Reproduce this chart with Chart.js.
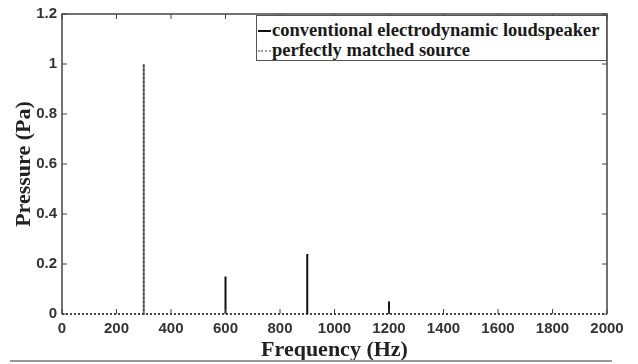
<!DOCTYPE html>
<html>
<head>
<meta charset="utf-8">
<script src="https://cdn.jsdelivr.net/npm/chart.js@4.4.1/dist/chart.umd.min.js"></script>
<style>
  html, body { margin: 0; padding: 0; background: #fff; }
  #wrap { position: relative; width: 638px; height: 364px; }
  #legend {
    position: absolute; left: 256px; top: 15px; width: 349px; height: 44px;
    border: 1.5px solid #555; background: #fff;
    font: bold 18.5px "Liberation Serif", "Times New Roman", serif; color: #1a1a1a;
  }
  #legend .row { position: absolute; left: 15px; height: 22px; line-height: 22px; white-space: nowrap; }
  #legend .sample { position: absolute; left: -14px; top: 11px; width: 13px; height: 0; }
  #bottomRule { position: absolute; left: 10px; top: 360px; width: 602px; height: 2px; background: #999; }
</style>
</head>
<body>
<div id="wrap">
  <canvas id="chart"></canvas>
  <div id="legend"></div>
  <div id="bottomRule"></div>
</div>
<script>
// spectrum lines
const conventionalFreqs    = [600, 900, 1200, 1500];
const conventionalPressure = [0.15, 0.24, 0.05, 0.005];
const matchedFreqs    = [300];
const matchedPressure = [1.0];
const freqRange = [0, 2000];

// vertical spikes: up and back down at each frequency, gap between them
function spikes(freqs, values) {
  const pts = [];
  freqs.forEach((f, i) => {
    pts.push({ x: f, y: 0 }, { x: f, y: values[i] }, { x: f, y: 0 }, { x: f, y: null });
  });
  return pts;
}

// matched source sits on the baseline across the whole band
function baselineSpikes(freqs, values) {
  const pts = [{ x: freqRange[0], y: 0 }];
  freqs.forEach((f, i) => pts.push({ x: f, y: 0 }, { x: f, y: values[i] }, { x: f, y: 0 }));
  pts.push({ x: freqRange[1], y: 0 });
  return pts;
}

const tickFont = { family: "'Liberation Sans', Arial, sans-serif", size: 15, weight: "bold" };
const titleFont = { family: "'Liberation Serif', 'Times New Roman', serif", size: 22, weight: "bold" };

// frame + inward tick marks on all four sides, like the MATLAB box
const framePlugin = {
  id: "frame",
  afterDatasetsDraw(chart) {
    const { ctx, chartArea: a, scales } = chart;
    ctx.save();
    ctx.strokeStyle = "#444";
    ctx.lineWidth = 1.5;
    ctx.beginPath();
    ctx.moveTo(a.left, a.bottom);
    ctx.lineTo(a.left, a.top);
    ctx.lineTo(a.right, a.top);
    ctx.lineTo(a.right, a.bottom);
    ctx.stroke();
    ctx.lineWidth = 1;
    ctx.beginPath();
    scales.x.ticks.forEach(t => {
      const px = scales.x.getPixelForValue(t.value);
      ctx.moveTo(px, a.bottom); ctx.lineTo(px, a.bottom - 5);
      ctx.moveTo(px, a.top);    ctx.lineTo(px, a.top + 5);
    });
    scales.y.ticks.forEach(t => {
      const py = scales.y.getPixelForValue(t.value);
      ctx.moveTo(a.left, py);  ctx.lineTo(a.left + 5, py);
      ctx.moveTo(a.right, py); ctx.lineTo(a.right - 5, py);
    });
    ctx.stroke();
    ctx.restore();
  }
};

const datasets = [
  {
    label: "conventional electrodynamic loudspeaker",
    data: spikes(conventionalFreqs, conventionalPressure),
    borderColor: "#111",
    borderWidth: 2,
    pointRadius: 0,
    spanGaps: false,
    clip: 4
  },
  {
    label: "perfectly matched source",
    data: baselineSpikes(matchedFreqs, matchedPressure),
    borderColor: "#444",
    borderWidth: 2,
    borderDash: [2, 2],
    pointRadius: 0,
    clip: 4
  }
];

new Chart(document.getElementById("chart"), {
  type: "line",
  data: { datasets },
  options: {
    responsive: true,
    maintainAspectRatio: false,
    animation: false,
    layout: { padding: { left: 0, right: 31, top: 14, bottom: 0 } },
    plugins: { legend: { display: false }, tooltip: { enabled: false } },
    scales: {
      x: {
        type: "linear",
        min: freqRange[0], max: freqRange[1],
        grid: { display: false, drawTicks: false },
        border: { display: false },
        ticks: { stepSize: 200, padding: 6, color: "#333", font: tickFont, maxRotation: 0,
                 callback: v => String(v) },
        title: { display: true, text: "Frequency (Hz)", color: "#222", font: titleFont, padding: { top: 0, bottom: 0 } },
        afterFit(scale) { scale.height = 50; }
      },
      y: {
        min: 0, max: 1.2,
        grid: { display: false, drawTicks: false },
        border: { display: false },
        ticks: { stepSize: 0.2, padding: 5, color: "#333", font: tickFont,
                 callback: v => String(Math.round(v * 10) / 10) },
        title: { display: true, text: "Pressure (Pa)", color: "#222", font: titleFont, padding: { top: 11, bottom: 0 } },
        afterFit(scale) { scale.width = 62; }
      }
    }
  },
  plugins: [framePlugin]
});

// legend box sits inside the plot, top right
const legend = document.getElementById("legend");
legend.innerHTML = datasets.map((ds, i) => `
  <div class="row" style="top:${3 + i * 20}px">
    <span class="sample" style="border-top:${ds.borderDash ? "2px dotted #999" : "2px solid #111"}"></span>${ds.label}
  </div>`).join("");
</script>
</body>
</html>
